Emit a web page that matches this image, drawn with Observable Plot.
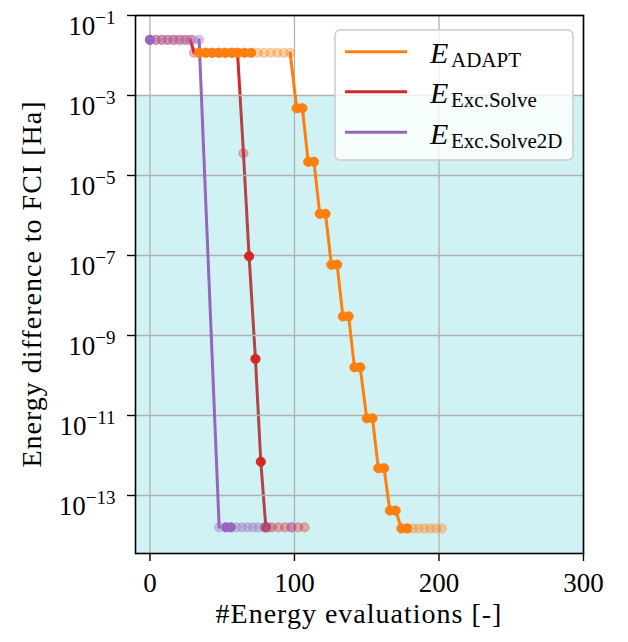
<!DOCTYPE html>
<html>
<head>
<meta charset="utf-8">
<script src="https://cdn.jsdelivr.net/npm/d3@7"></script>
<script src="https://cdn.jsdelivr.net/npm/@observablehq/plot@0.6"></script>
<style>
  body { margin: 0; background: #fff; }
  #chart svg { display: block; }
</style>
</head>
<body>
<div id="chart"></div>
<script>
// ---------- axis setup ----------
const xTicks = [0, 100, 200, 300];
const xTickLabels = ["0", "100", "200", "300"];
const yTicks = [1e-1, 1e-3, 1e-5, 1e-7, 1e-9, 1e-11, 1e-13];
const yTickBase = ["10", "10", "10", "10", "10", "10", "10"];
const yTickExp = ["\u22121", "\u22123", "\u22125", "\u22127", "\u22129", "\u221211", "\u221213"];
const xDomain = [-10, 300];
const yDomain = [3.55e-15, 1e-1];
const accuracyThreshold = 1e-3;
const xLabel = "#Energy evaluations [-]";
const yLabel = "Energy difference to FCI [Ha]";

// ---------- series names ----------
const seriesNames = ["E", "E", "E"];
const seriesSubs = ["ADAPT", "Exc.Solve", "Exc.Solve2D"];

// ---------- E_ADAPT ----------
const adaptX = [34, 38.5, 43, 47.5, 52, 56.5, 61, 65.5, 70,
  74.5, 79, 83.5, 88, 92.5, 97,
  101.5, 105.5, 109.5, 113.5, 117.5, 121.5, 125.5, 129.5, 133.5, 137.5,
  141.5, 145.5, 150, 154, 158, 162, 166, 170, 174, 178,
  182, 186, 190, 194, 198, 202];
const adaptY = [1.17e-2, 1.17e-2, 1.17e-2, 1.17e-2, 1.17e-2, 1.17e-2, 1.17e-2, 1.17e-2, 1.17e-2,
  1.17e-2, 1.17e-2, 1.17e-2, 1.17e-2, 1.17e-2, 1.17e-2,
  4.8e-4, 4.8e-4, 2.2e-5, 2.2e-5, 1.1e-6, 1.1e-6, 5.9e-8, 5.9e-8, 3.0e-9, 3.0e-9,
  1.6e-10, 1.6e-10, 8.5e-12, 8.5e-12, 4.8e-13, 4.8e-13, 4.2e-14, 4.2e-14, 1.5e-14, 1.5e-14,
  1.5e-14, 1.5e-14, 1.5e-14, 1.5e-14, 1.5e-14, 1.5e-14];
const adaptAccepted = [1, 1, 1, 1, 1, 1, 1, 1, 1,
  0, 0, 0, 0, 0, 0,
  1, 1, 1, 1, 1, 1, 1, 1, 1, 1,
  1, 1, 1, 1, 1, 1, 1, 1, 1, 1,
  0, 0, 0, 0, 0, 0];

// ---------- E_Exc.Solve ----------
const solveX = [0, 4, 8, 12, 16, 20, 24, 28,
  30.5, 34.5, 39, 43.5, 48, 52.5, 57, 60.6,
  64.7, 68.6, 73, 76.7, 80.2,
  84.5, 89, 93.5, 98, 102.5, 107];
const solveY = [2.46e-2, 2.46e-2, 2.46e-2, 2.46e-2, 2.46e-2, 2.46e-2, 2.46e-2, 2.46e-2,
  1.17e-2, 1.17e-2, 1.17e-2, 1.17e-2, 1.17e-2, 1.17e-2, 1.17e-2, 1.17e-2,
  3.6e-5, 9.6e-8, 2.6e-10, 7.0e-13, 1.6e-14,
  1.6e-14, 1.6e-14, 1.6e-14, 1.6e-14, 1.6e-14, 1.6e-14];
const solveAccepted = [0, 0, 0, 0, 0, 0, 0, 0,
  0, 0, 0, 0, 0, 0, 0, 0,
  0, 1, 1, 1, 1,
  0, 0, 0, 0, 0, 0];

// ---------- E_Exc.Solve2D ----------
const solve2dX = [0, 4.25, 8.5, 12.75, 17, 21.25, 25.5, 29.75, 34,
  47.9, 52.6, 56, 59.8, 63.6, 67.4, 71.2, 75, 78.8, 82.5, 97.5];
const solve2dY = [2.46e-2, 2.46e-2, 2.46e-2, 2.46e-2, 2.46e-2, 2.46e-2, 2.46e-2, 2.46e-2, 2.46e-2,
  1.6e-14, 1.6e-14, 1.6e-14, 1.6e-14, 1.6e-14, 1.6e-14, 1.6e-14, 1.6e-14, 1.6e-14, 1.6e-14, 1.6e-14];
const solve2dAccepted = [1, 0, 0, 0, 0, 0, 0, 0, 0,
  0, 1, 1, 0, 0, 0, 0, 0, 0, 0, 0];

// ---------- styling ----------
const colors = {adapt: "#ff7f0e", solve: "#d62728", solve2d: "#9467bd"};
const spanColor = "#17becf";
const gridColor = "#b0b0b0";
const FONT = "'Liberation Serif', 'DejaVu Serif', serif";

function points(xs, ys, acc) {
  return xs.map((x, i) => ({x, y: ys[i], accepted: acc[i] === 1}));
}
function segments(pts) {
  const out = [];
  for (let i = 1; i < pts.length; i++) {
    const a = pts[i - 1], b = pts[i];
    if (a.y !== b.y || (a.accepted && b.accepted)) out.push({x1: a.x, y1: a.y, x2: b.x, y2: b.y});
  }
  return out;
}
const adaptPts = points(adaptX, adaptY, adaptAccepted);
const solvePts = points(solveX, solveY, solveAccepted);
const solve2dPts = points(solve2dX, solve2dY, solve2dAccepted);

const R = 4.6, FADE = 0.35;
function lineMark(pts, color) {
  return Plot.link(segments(pts), {x1: "x1", y1: "y1", x2: "x2", y2: "y2",
    stroke: color, strokeWidth: 3, strokeLinecap: "round"});
}
function fadedDots(pts, color) {
  return Plot.dot(pts.filter(d => !d.accepted), {x: "x", y: "y", r: R,
    fill: color, fillOpacity: FADE, stroke: color, strokeOpacity: FADE, strokeWidth: 1});
}
function solidDots(pts, color) {
  return Plot.dot(pts.filter(d => d.accepted), {x: "x", y: "y", r: R,
    fill: color, stroke: color, strokeWidth: 1});
}

const plot = Plot.plot({
  width: 628,
  height: 642,
  marginLeft: 135,
  marginRight: 45,
  marginTop: 15,
  marginBottom: 89,
  style: {fontFamily: FONT, fontSize: "27px", background: "white", color: "black", overflow: "visible"},
  x: {domain: xDomain},
  y: {type: "log", domain: yDomain},
  marks: [
    lineMark(solvePts, colors.solve),
    Plot.rect([accuracyThreshold], {x1: xDomain[0], x2: xDomain[1], y1: yDomain[0], y2: d => d,
      fill: spanColor, fillOpacity: 0.2}),
    Plot.gridX({ticks: xTicks, stroke: gridColor, strokeOpacity: 1, strokeWidth: 1.3}),
    Plot.gridY({ticks: yTicks, stroke: gridColor, strokeOpacity: 1, strokeWidth: 1.3}),
    lineMark(solve2dPts, colors.solve2d),
    lineMark(adaptPts, colors.adapt),
    fadedDots(solvePts, colors.solve),
    solidDots(solvePts, colors.solve),
    fadedDots(solve2dPts, colors.solve2d),
    solidDots(solve2dPts, colors.solve2d),
    fadedDots(adaptPts, colors.adapt),
    solidDots(adaptPts, colors.adapt),
    Plot.frame({stroke: "black", strokeWidth: 1.6}),
    Plot.axisX({ticks: xTicks, tickFormat: d => xTickLabels[xTicks.indexOf(d)], tickSize: 8, tickPadding: 11,
      fontSize: 27, label: null, strokeWidth: 1.4}),
    Plot.axisY({ticks: yTicks, tickFormat: d => String(yTicks.indexOf(d)), tickSize: 8, tickPadding: 12,
      fontSize: 27, label: null, strokeWidth: 1.4})
  ]
});

document.getElementById("chart").appendChild(plot);
const svg = d3.select(plot);

// rebuild y tick labels as 10 with superscript exponent
svg.selectAll('g[aria-label="y-axis tick label"] text').each(function() {
  const t = d3.select(this);
  const i = +t.text();
  t.text(null).attr("dy", "0.4em");
  t.append("tspan").text(yTickBase[i]);
  t.append("tspan").attr("dy", -11).attr("font-size", 19).text(yTickExp[i]);
});

// axis labels
svg.append("text")
  .attr("x", 359).attr("y", 623)
  .attr("text-anchor", "middle")
  .attr("font-family", FONT).attr("font-size", 28).attr("letter-spacing", "1px")
  .attr("fill", "black")
  .text(xLabel);
svg.append("text")
  .attr("transform", "translate(41,284) rotate(-90)")
  .attr("text-anchor", "middle")
  .attr("font-family", FONT).attr("font-size", 28).attr("letter-spacing", "1px")
  .attr("fill", "black")
  .text(yLabel);

// legend
const lg = svg.append("g").attr("text-anchor", "start");
lg.append("rect")
  .attr("x", 335).attr("y", 30).attr("width", 238).attr("height", 130)
  .attr("rx", 5).attr("fill", "white").attr("fill-opacity", 0.8)
  .attr("stroke", "#cccccc").attr("stroke-width", 1.5);
const legendColors = [colors.adapt, colors.solve, colors.solve2d];
const legendRowY = [51.7, 91.7, 132.3];
legendColors.forEach((c, i) => {
  const y = legendRowY[i];
  lg.append("line").attr("x1", 345).attr("x2", 407).attr("y1", y).attr("y2", y)
    .attr("stroke", c).attr("stroke-width", 3);
  const t = lg.append("text").attr("x", 430).attr("y", y + 11.5)
    .attr("text-anchor", "start")
    .attr("font-family", FONT).attr("fill", "black");
  t.append("tspan").attr("font-style", "italic").attr("font-size", 30).text(seriesNames[i]);
  t.append("tspan").attr("x", 451).attr("dy", 4).attr("font-size", 21).text(seriesSubs[i]);
});
</script>
</body>
</html>
